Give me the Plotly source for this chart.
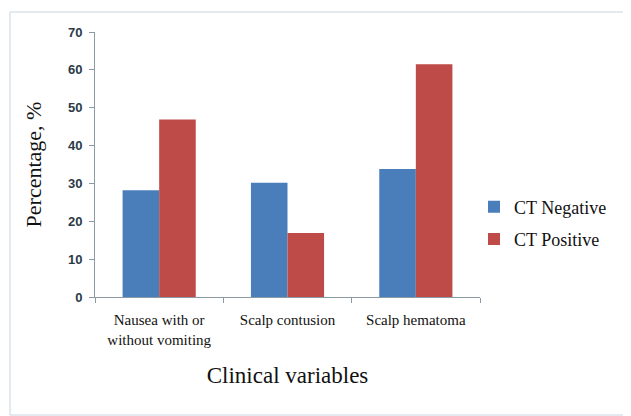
import plotly.graph_objects as go

categories = ["Nausea with or<br>without vomiting", "Scalp contusion", "Scalp hematoma"]
ct_negative = [28.2, 30.2, 33.8]
ct_positive = [46.9, 16.9, 61.5]
y_ticks = [0, 10, 20, 30, 40, 50, 60, 70]

serif = "Liberation Serif"

fig = go.Figure()
fig.add_trace(go.Bar(x=categories, y=ct_negative, name="CT Negative", legendgroup="neg",
                     marker=dict(color="#4a7ebb", line=dict(width=0))))
fig.add_trace(go.Bar(x=categories, y=ct_positive, name="CT Positive", legendgroup="pos",
                     marker=dict(color="#be4b48", line=dict(width=0))))

OFF = 8  # page body margin
W, H = 631 - OFF, 416 - OFF
# absolute page coords of plot area
PX0, PX1, PY0, PY1 = 95, 480, 32, 297
L, R, T, B = PX0 - OFF, W - (PX1 - OFF), PY0 - OFF, H - (PY1 - OFF)
pw, ph = PX1 - PX0, PY1 - PY0

def px_x(x):
    return (x - PX0) / pw

def px_y(y):
    return (PY1 - y) / ph

fig.update_layout(
    width=W, height=H,
    margin=dict(l=L, r=R, t=T, b=B),
    paper_bgcolor="white", plot_bgcolor="white",
    barmode="group", bargap=0.43, bargroupgap=0,
    showlegend=True,
    legend=dict(x=px_x(474), y=px_y(223), xanchor="left", yanchor="middle",
                font=dict(family=serif, size=18, color="#111"),
                itemwidth=30, tracegroupgap=6, bgcolor="rgba(0,0,0,0)"),
    xaxis=dict(showline=True, linecolor="#8c9aa6", linewidth=1,
               ticks="outside", tickson="boundaries", ticklen=5, tickcolor="#8c9aa6",
               ticklabelstandoff=9,
               tickfont=dict(family=serif, size=15, color="#111"),
               title=dict(text="Clinical variables", font=dict(family=serif, size=23, color="#111"),
                          standoff=20),
               showgrid=False, zeroline=False),
    yaxis=dict(range=[0, 70], tickvals=y_ticks, showline=True, linecolor="#8c9aa6", linewidth=1,
               ticks="outside", ticklen=5, tickcolor="#8c9aa6", ticklabelstandoff=4,
               tickfont=dict(family="Liberation Sans", size=13, color="#2b3a48", weight="bold"),
               title=dict(text="Percentage, %", font=dict(family=serif, size=22, color="#111"),
                          standoff=20),
               showgrid=False, zeroline=False),
    shapes=[dict(type="rect", xref="paper", yref="paper",
                 x0=px_x(10), x1=px_x(630), y0=px_y(415), y1=px_y(12),
                 line=dict(color="#c8d4de", width=1), fillcolor="rgba(0,0,0,0)", layer="below")],
)

fig.write_html("out.html")
